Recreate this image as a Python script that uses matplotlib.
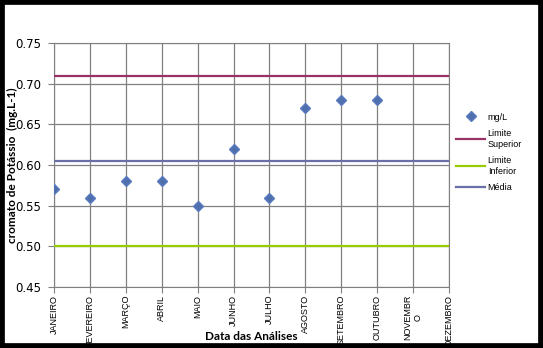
import matplotlib.pyplot as plt
from matplotlib.patches import Rectangle

meses = ["JANEIRO", "FEVEREIRO", "MARÇO", "ABRIL", "MAIO", "JUNHO", "JULHO",
         "AGOSTO", "SETEMBRO", "OUTUBRO", "NOVEMBR\nO", "DEZEMBRO"]
valores = [0.57, 0.56, 0.58, 0.58, 0.55, 0.62, 0.56, 0.67, 0.68, 0.68]
limite_sup = 0.71
limite_inf = 0.50
media = sum(valores) / len(valores)

fig = plt.figure(figsize=(5.43, 3.48), dpi=100)
ax = fig.add_axes([0.0994, 0.1753, 0.7275, 0.7011])

x = list(range(len(meses)))
ax.plot(x[:len(valores)], valores, linestyle="none", marker="D", markersize=5,
        color="#4F6FAE", markeredgecolor="#5A7BC0", label="mg/L", zorder=4)
ax.plot([0, len(meses) - 1], [limite_sup] * 2, color="#993366", lw=1.6,
        label="Limite\nSuperior", zorder=3)
ax.plot([0, len(meses) - 1], [limite_inf] * 2, color="#99CC00", lw=1.6,
        label="Limite\nInferior", zorder=3)
ax.plot([0, len(meses) - 1], [media] * 2, color="#6A6FA8", lw=1.6,
        label="Média", zorder=3)

ax.set_xlim(0, len(meses) - 1)
ax.set_ylim(0.45, 0.75)
ax.set_yticks([0.45, 0.50, 0.55, 0.60, 0.65, 0.70, 0.75])
ax.set_yticklabels([f"{v:.2f}" for v in ax.get_yticks()], fontsize=8.5)
ax.set_xticks(x)
ax.set_xticklabels(meses, rotation=90, fontsize=6.5, family="Liberation Sans",
                   linespacing=1.1)
ax.grid(True, color="#808080", lw=0.9)
ax.set_axisbelow(True)
for s in ax.spines.values():
    s.set_color("#808080")
ax.tick_params(colors="#808080", labelcolor="black", length=4)
ax.tick_params(axis="y", pad=5)
ax.tick_params(axis="x", pad=1.5)

fig.text(12 / 543, 1 - 165 / 348, "cromato de Potássio  (mg.L-1)", rotation=90,
         ha="center", va="center", fontsize=8.5, fontweight="bold",
         family="Lato")
ax.set_xlabel("Data das Análises", fontsize=8.5, fontweight="bold",
              family="Lato")
ax.xaxis.set_label_coords(0.5, -0.18)

fig.legend(loc="upper left", bbox_to_anchor=(0.825, 0.7), frameon=False,
           handlelength=3.2, labelspacing=0.85, handletextpad=0.3,
           prop={"family": "Liberation Sans", "size": 6.5})

# moldura preta da figura
fig.patches.append(Rectangle((0, 0), 1, 1, transform=fig.transFigure,
                             fill=False, edgecolor="black", lw=7, zorder=10))

fig.savefig("out.png", dpi=100)
